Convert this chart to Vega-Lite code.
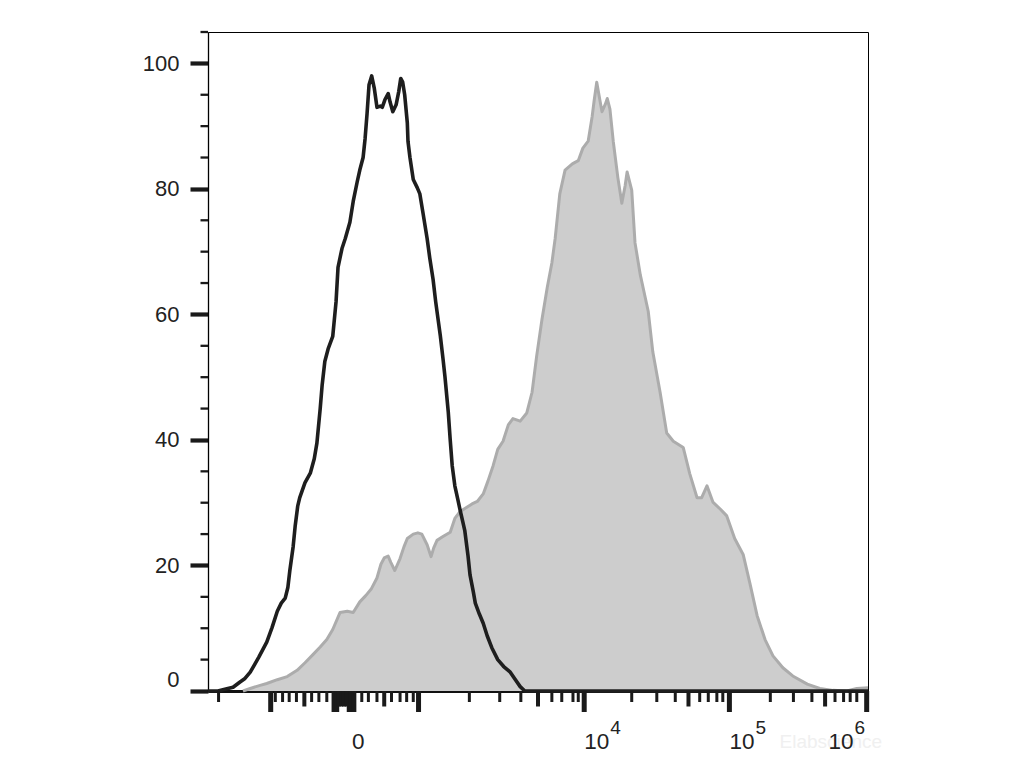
{
  "$schema": "https://vega.github.io/schema/vega-lite/v6.json",
  "width": 660,
  "height": 659,
  "autosize": "none",
  "padding": {"left": 208, "top": 32, "right": 163, "bottom": 82},
  "background": "white",
  "config": {"view": {"stroke": "#000000", "strokeWidth": 1}, "font": "Liberation Sans"},
  "datasets": {
    "stained": [
      {"channel": 53, "percent": 0}, {"channel": 64, "percent": 0.4}, {"channel": 79, "percent": 0.9}, {"channel": 89, "percent": 1.2},
      {"channel": 105, "percent": 1.8}, {"channel": 120, "percent": 2.3}, {"channel": 135, "percent": 3.3}, {"channel": 147, "percent": 4.5},
      {"channel": 159, "percent": 5.8}, {"channel": 170, "percent": 7.0}, {"channel": 180, "percent": 8.2}, {"channel": 189, "percent": 9.8},
      {"channel": 200, "percent": 12.5}, {"channel": 211, "percent": 12.7}, {"channel": 220, "percent": 12.5}, {"channel": 230, "percent": 14.2},
      {"channel": 239, "percent": 15.2}, {"channel": 247, "percent": 16.2}, {"channel": 256, "percent": 18.0}, {"channel": 262, "percent": 20.2},
      {"channel": 267, "percent": 21.2}, {"channel": 273, "percent": 21.5}, {"channel": 277, "percent": 20.5}, {"channel": 283, "percent": 19.2},
      {"channel": 291, "percent": 21.1}, {"channel": 297, "percent": 23.0}, {"channel": 302, "percent": 24.3}, {"channel": 311, "percent": 25.0},
      {"channel": 318, "percent": 25.2}, {"channel": 324, "percent": 25.0}, {"channel": 332, "percent": 23.3}, {"channel": 338, "percent": 21.4},
      {"channel": 342, "percent": 22.8}, {"channel": 347, "percent": 24.0}, {"channel": 356, "percent": 24.6}, {"channel": 367, "percent": 25.3},
      {"channel": 374, "percent": 27.5}, {"channel": 382, "percent": 28.6}, {"channel": 391, "percent": 29.2}, {"channel": 400, "percent": 29.8},
      {"channel": 408, "percent": 30.2}, {"channel": 417, "percent": 31.4}, {"channel": 424, "percent": 33.4}, {"channel": 432, "percent": 35.9},
      {"channel": 439, "percent": 38.5}, {"channel": 447, "percent": 39.8}, {"channel": 455, "percent": 42.4}, {"channel": 462, "percent": 43.4},
      {"channel": 473, "percent": 43.0}, {"channel": 483, "percent": 44.3}, {"channel": 491, "percent": 47.6}, {"channel": 498, "percent": 53.4},
      {"channel": 506, "percent": 59.2}, {"channel": 514, "percent": 64.3}, {"channel": 521, "percent": 68.2}, {"channel": 526, "percent": 72.1},
      {"channel": 533, "percent": 79.2}, {"channel": 541, "percent": 83.0}, {"channel": 552, "percent": 84.0}, {"channel": 561, "percent": 84.5},
      {"channel": 568, "percent": 86.5}, {"channel": 576, "percent": 87.6}, {"channel": 582, "percent": 91.5}, {"channel": 585, "percent": 94.0},
      {"channel": 589, "percent": 97.0}, {"channel": 594, "percent": 94.0}, {"channel": 597, "percent": 92.3}, {"channel": 602, "percent": 93.5},
      {"channel": 605, "percent": 94.4}, {"channel": 609, "percent": 92.7}, {"channel": 614, "percent": 87.6}, {"channel": 621, "percent": 81.8},
      {"channel": 627, "percent": 77.7}, {"channel": 632, "percent": 80.5}, {"channel": 635, "percent": 82.7}, {"channel": 642, "percent": 79.8},
      {"channel": 647, "percent": 71.4}, {"channel": 655, "percent": 66.3}, {"channel": 667, "percent": 60.5}, {"channel": 674, "percent": 54.0},
      {"channel": 685, "percent": 47.6}, {"channel": 695, "percent": 41.1}, {"channel": 705, "percent": 39.8}, {"channel": 720, "percent": 38.8},
      {"channel": 730, "percent": 34.6}, {"channel": 741, "percent": 30.8}, {"channel": 748, "percent": 30.8}, {"channel": 756, "percent": 32.7},
      {"channel": 765, "percent": 30.1}, {"channel": 776, "percent": 29.0}, {"channel": 786, "percent": 27.9}, {"channel": 798, "percent": 24.3},
      {"channel": 811, "percent": 21.7}, {"channel": 821, "percent": 17.2}, {"channel": 832, "percent": 12.0}, {"channel": 844, "percent": 8.2},
      {"channel": 856, "percent": 5.6}, {"channel": 871, "percent": 3.7}, {"channel": 886, "percent": 2.4}, {"channel": 908, "percent": 1.1},
      {"channel": 927, "percent": 0.4}, {"channel": 947, "percent": 0.1}, {"channel": 968, "percent": 0}, {"channel": 983, "percent": 0.4},
      {"channel": 1000, "percent": 0.5}
    ],
    "control": [
      {"channel": 0, "percent": 0}, {"channel": 15, "percent": 0}, {"channel": 27, "percent": 0.3}, {"channel": 38, "percent": 0.6},
      {"channel": 48, "percent": 1.4}, {"channel": 56, "percent": 2.0}, {"channel": 64, "percent": 3.0}, {"channel": 71, "percent": 4.3},
      {"channel": 77, "percent": 5.4}, {"channel": 83, "percent": 6.6}, {"channel": 89, "percent": 7.8}, {"channel": 97, "percent": 10.1},
      {"channel": 105, "percent": 12.7}, {"channel": 111, "percent": 14.0}, {"channel": 117, "percent": 14.8}, {"channel": 121, "percent": 16.5},
      {"channel": 124, "percent": 19.2}, {"channel": 129, "percent": 23.0}, {"channel": 132, "percent": 26.2}, {"channel": 136, "percent": 29.5},
      {"channel": 139, "percent": 30.8}, {"channel": 147, "percent": 33.2}, {"channel": 155, "percent": 34.7}, {"channel": 161, "percent": 37.0},
      {"channel": 165, "percent": 39.5}, {"channel": 170, "percent": 45.0}, {"channel": 173, "percent": 48.8}, {"channel": 177, "percent": 52.5},
      {"channel": 182, "percent": 54.5}, {"channel": 189, "percent": 56.5}, {"channel": 194, "percent": 62.0}, {"channel": 197, "percent": 67.5},
      {"channel": 203, "percent": 70.5}, {"channel": 208, "percent": 72.1}, {"channel": 215, "percent": 74.7}, {"channel": 220, "percent": 78.0},
      {"channel": 226, "percent": 81.1}, {"channel": 230, "percent": 83.0}, {"channel": 235, "percent": 85.0}, {"channel": 238, "percent": 88.0},
      {"channel": 241, "percent": 92.0}, {"channel": 244, "percent": 96.6}, {"channel": 248, "percent": 98.0}, {"channel": 252, "percent": 96.0},
      {"channel": 256, "percent": 93.0}, {"channel": 261, "percent": 93.2}, {"channel": 264, "percent": 93.0}, {"channel": 268, "percent": 94.2},
      {"channel": 273, "percent": 95.2}, {"channel": 276, "percent": 93.8}, {"channel": 280, "percent": 92.3}, {"channel": 285, "percent": 93.4},
      {"channel": 289, "percent": 95.5}, {"channel": 292, "percent": 97.6}, {"channel": 295, "percent": 97.0}, {"channel": 298, "percent": 95.0},
      {"channel": 302, "percent": 90.5}, {"channel": 303, "percent": 87.6}, {"channel": 306, "percent": 85.0}, {"channel": 311, "percent": 81.5},
      {"channel": 317, "percent": 80.2}, {"channel": 321, "percent": 79.2}, {"channel": 326, "percent": 76.0}, {"channel": 332, "percent": 72.1},
      {"channel": 336, "percent": 69.0}, {"channel": 341, "percent": 65.6}, {"channel": 345, "percent": 62.0}, {"channel": 352, "percent": 56.6},
      {"channel": 356, "percent": 53.0}, {"channel": 359, "percent": 50.1}, {"channel": 364, "percent": 44.5}, {"channel": 367, "percent": 40.0},
      {"channel": 370, "percent": 35.9}, {"channel": 374, "percent": 32.7}, {"channel": 379, "percent": 30.3}, {"channel": 382, "percent": 28.8},
      {"channel": 386, "percent": 27.0}, {"channel": 389, "percent": 25.6}, {"channel": 394, "percent": 21.5}, {"channel": 397, "percent": 18.5},
      {"channel": 402, "percent": 15.8}, {"channel": 405, "percent": 14.0}, {"channel": 411, "percent": 12.3}, {"channel": 417, "percent": 10.8},
      {"channel": 423, "percent": 8.8}, {"channel": 430, "percent": 6.9}, {"channel": 439, "percent": 5.0}, {"channel": 448, "percent": 3.9},
      {"channel": 458, "percent": 3.0}, {"channel": 465, "percent": 1.9}, {"channel": 473, "percent": 0.7}, {"channel": 480, "percent": 0},
      {"channel": 1000, "percent": 0}
    ],
    "xticks": [
      {"value": 16, "kind": "minor"}, {"value": 95, "kind": "major"}, {"value": 102, "kind": "minor"}, {"value": 113, "kind": "minor"},
      {"value": 123, "kind": "minor"}, {"value": 134, "kind": "minor"}, {"value": 146, "kind": "medium"}, {"value": 157, "kind": "minor"},
      {"value": 168, "kind": "minor"}, {"value": 180, "kind": "minor"}, {"value": 191, "kind": "major"}, {"value": 195, "kind": "major"},
      {"value": 198, "kind": "medium"}, {"value": 202, "kind": "medium"}, {"value": 206, "kind": "medium"}, {"value": 210, "kind": "medium"},
      {"value": 214, "kind": "major"}, {"value": 217, "kind": "major"}, {"value": 221, "kind": "major"}, {"value": 233, "kind": "minor"},
      {"value": 243, "kind": "minor"}, {"value": 256, "kind": "minor"}, {"value": 267, "kind": "medium"}, {"value": 278, "kind": "minor"},
      {"value": 291, "kind": "minor"}, {"value": 301, "kind": "minor"}, {"value": 311, "kind": "minor"}, {"value": 319, "kind": "major"},
      {"value": 396, "kind": "minor"}, {"value": 442, "kind": "minor"}, {"value": 474, "kind": "minor"}, {"value": 500, "kind": "medium"},
      {"value": 521, "kind": "minor"}, {"value": 536, "kind": "minor"}, {"value": 553, "kind": "minor"}, {"value": 561, "kind": "minor"},
      {"value": 570, "kind": "major"}, {"value": 642, "kind": "minor"}, {"value": 680, "kind": "minor"}, {"value": 708, "kind": "minor"},
      {"value": 728, "kind": "medium"}, {"value": 745, "kind": "minor"}, {"value": 758, "kind": "minor"}, {"value": 771, "kind": "minor"},
      {"value": 780, "kind": "minor"}, {"value": 790, "kind": "major"}, {"value": 852, "kind": "minor"}, {"value": 887, "kind": "minor"},
      {"value": 915, "kind": "minor"}, {"value": 935, "kind": "medium"}, {"value": 950, "kind": "minor"}, {"value": 963, "kind": "minor"},
      {"value": 973, "kind": "minor"}, {"value": 983, "kind": "minor"}, {"value": 998, "kind": "major"}
    ],
    "yminor": [
      {"value": 5}, {"value": 10}, {"value": 15}, {"value": 25}, {"value": 30}, {"value": 35}, {"value": 45}, {"value": 50},
      {"value": 55}, {"value": 65}, {"value": 70}, {"value": 75}, {"value": 85}, {"value": 90}, {"value": 95}, {"value": 105}
    ],
    "labels": [
      {"pos": 218, "base": "0", "sup": ""},
      {"pos": 570, "base": "10", "sup": "4"},
      {"pos": 790, "base": "10", "sup": "5"},
      {"pos": 940, "base": "10", "sup": "6"}
    ],
    "mark": [
      {"pos": 866, "text": "Elabscience"}
    ]
  },
  "layer": [
    {
      "data": {"name": "stained"},
      "mark": {"type": "area", "color": "#cdcdcd", "interpolate": "linear"},
      "encoding": {
        "x": {
          "field": "channel", "type": "quantitative", "title": null,
          "scale": {"domain": [0, 1000], "nice": false, "zero": false},
          "axis": {
            "title": null, "grid": false, "labels": false, "ticks": false,
            "domainColor": "#111111", "domainWidth": 3
          }
        },
        "y": {
          "field": "percent", "type": "quantitative", "title": null,
          "scale": {"domain": [0, 105], "nice": false},
          "axis": {
            "title": null, "grid": false,
            "values": [0, 20, 40, 60, 80, 100],
            "labelFont": "Liberation Sans", "labelFontSize": 22, "labelColor": "#222222",
            "labelPadding": 11, "labelOverlap": false, "labelFlush": true,
            "domainColor": "#000000", "domainWidth": 1.3,
            "tickColor": "#1a1a1a", "tickSize": 18, "tickWidth": 4.2
          }
        }
      }
    },
    {
      "data": {"name": "stained"},
      "mark": {"type": "line", "color": "#acacac", "strokeWidth": 3, "strokeJoin": "round"},
      "encoding": {
        "x": {"field": "channel", "type": "quantitative", "title": null},
        "y": {"field": "percent", "type": "quantitative", "title": null}
      }
    },
    {
      "data": {"name": "control"},
      "mark": {"type": "line", "color": "#1e1e1e", "strokeWidth": 3.6, "strokeJoin": "round"},
      "encoding": {
        "x": {"field": "channel", "type": "quantitative", "title": null},
        "y": {"field": "percent", "type": "quantitative", "title": null}
      }
    },
    {
      "data": {"name": "xticks"},
      "transform": [{"filter": "datum.kind === 'major'"}],
      "mark": {"type": "rule", "color": "#1a1a1a", "strokeWidth": 5, "strokeCap": "butt", "y2Offset": 21},
      "encoding": {
        "x": {"field": "value", "type": "quantitative", "title": null},
        "y": {"datum": 0, "type": "quantitative"},
        "y2": {"datum": 0}
      }
    },
    {
      "data": {"name": "xticks"},
      "transform": [{"filter": "datum.kind === 'medium'"}],
      "mark": {"type": "rule", "color": "#1a1a1a", "strokeWidth": 4, "strokeCap": "butt", "y2Offset": 15.5},
      "encoding": {
        "x": {"field": "value", "type": "quantitative", "title": null},
        "y": {"datum": 0, "type": "quantitative"},
        "y2": {"datum": 0}
      }
    },
    {
      "data": {"name": "xticks"},
      "transform": [{"filter": "datum.kind === 'minor'"}],
      "mark": {"type": "rule", "color": "#1a1a1a", "strokeWidth": 3, "strokeCap": "butt", "y2Offset": 11},
      "encoding": {
        "x": {"field": "value", "type": "quantitative", "title": null},
        "y": {"datum": 0, "type": "quantitative"},
        "y2": {"datum": 0}
      }
    },
    {
      "data": {"name": "yminor"},
      "mark": {"type": "rule", "color": "#1a1a1a", "strokeWidth": 2.3, "strokeCap": "butt", "x2Offset": -7.5},
      "encoding": {
        "y": {"field": "value", "type": "quantitative", "title": null},
        "x": {"datum": 0, "type": "quantitative"},
        "x2": {"datum": 0}
      }
    },
    {
      "data": {"name": "mark"},
      "mark": {"type": "text", "align": "left", "baseline": "alphabetic", "dy": 57, "fontSize": 19, "font": "Liberation Sans", "color": "#f0f0f0"},
      "encoding": {
        "x": {"field": "pos", "type": "quantitative", "title": null},
        "y": {"datum": 0, "type": "quantitative"},
        "text": {"field": "text"}
      }
    },
    {
      "data": {"name": "labels"},
      "mark": {"type": "text", "align": "left", "baseline": "alphabetic", "dy": 58, "fontSize": 22.5, "font": "Liberation Sans", "color": "#222222"},
      "encoding": {
        "x": {"field": "pos", "type": "quantitative", "title": null},
        "y": {"datum": 0, "type": "quantitative"},
        "text": {"field": "base"}
      }
    },
    {
      "data": {"name": "labels"},
      "mark": {"type": "text", "align": "left", "baseline": "alphabetic", "dx": 26, "dy": 43, "fontSize": 19, "font": "Liberation Sans", "color": "#222222"},
      "encoding": {
        "x": {"field": "pos", "type": "quantitative", "title": null},
        "y": {"datum": 0, "type": "quantitative"},
        "text": {"field": "sup"}
      }
    }
  ]
}
